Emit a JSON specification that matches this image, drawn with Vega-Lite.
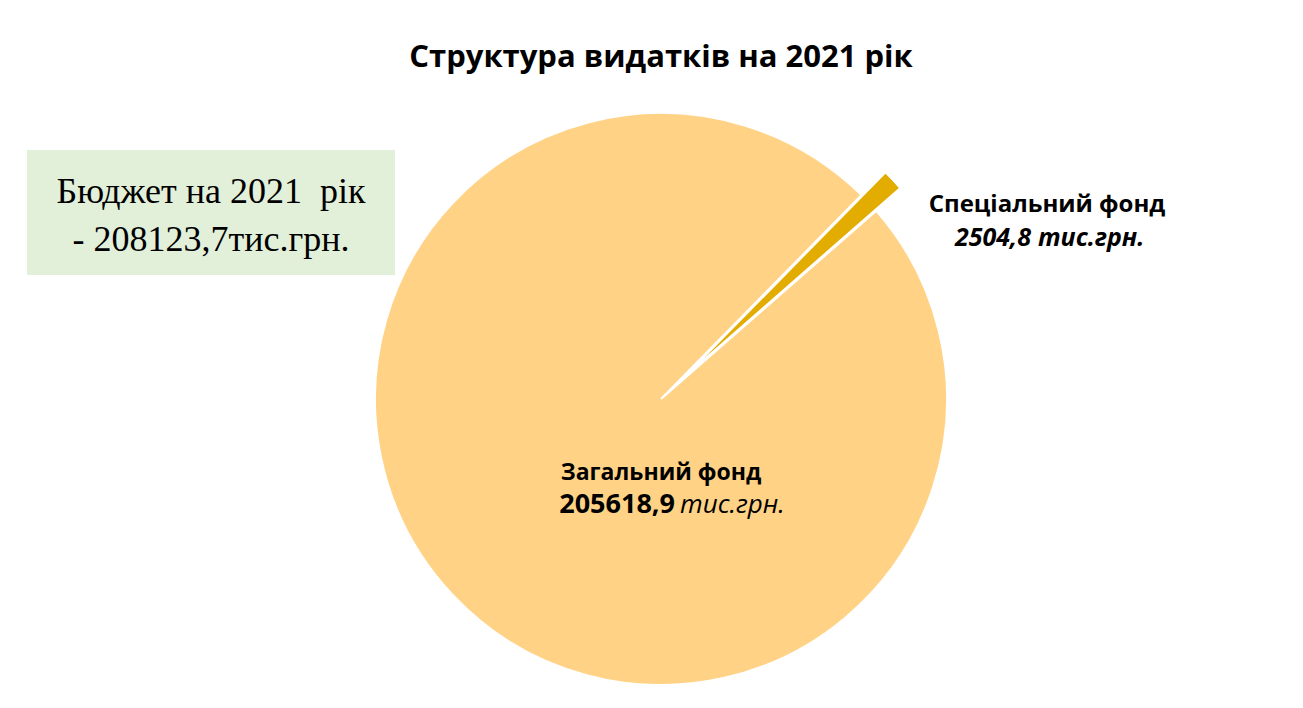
{
  "$schema": "https://vega.github.io/schema/vega-lite/v6.json",
  "autosize": {"type": "none"},
  "padding": {"left": 27, "top": 150, "right": 1276, "bottom": 558},
  "background": "white",
  "spacing": 16,
  "bounds": "flush",
  "config": {"view": {"stroke": null}},
  "hconcat": [
    {
      "width": 368,
      "height": 125,
      "view": {"fill": "#E2EFD9", "stroke": null},
      "data": {"values": [{"budget": 208123.7}]},
      "mark": {
        "type": "text",
        "text": ["Бюджет на 2021\u00a0 рік", "- 208123,7тис.грн."],
        "font": "Liberation Serif",
        "fontSize": 36,
        "lineHeight": 48,
        "align": "center",
        "baseline": "alphabetic",
        "dy": -10,
        "color": "#000000"
      },
      "encoding": {}
    },
    {
      "width": 500,
      "height": 498,
      "title": {
        "text": "Структура видатків на 2021 рік",
        "anchor": "middle",
        "baseline": "alphabetic",
        "offset": -8,
        "font": "Open Sans",
        "fontSize": 31,
        "fontWeight": "bold",
        "color": "#000000"
      },
      "data": {
        "values": [
          {"fund": "Загальний фонд", "value": 205618.9, "amount": "205618,9"},
          {"fund": "Спеціальний фонд", "value": 2504.8, "amount": "2504,8"}
        ]
      },
      "layer": [
        {
          "mark": {"type": "arc", "radius": 286, "stroke": "white", "strokeWidth": 2, "fill": "#FFD286"},
          "encoding": {
            "theta": {"field": "value", "type": "quantitative", "stack": true, "scale": {"range": [0.7767, 7.0599]}},
            "order": {"field": "fund", "sort": "descending"},
            "opacity": {"condition": {"test": "datum.fund === 'Спеціальний фонд'", "value": 0}, "value": 1}
          }
        },
        {
          "mark": {"type": "arc", "radius": 286, "stroke": "white", "strokeWidth": 2, "fill": "#E3AC00", "xOffset": 24, "yOffset": -22.7},
          "encoding": {
            "theta": {"field": "value", "type": "quantitative", "stack": true, "scale": {"range": [0.7767, 7.0599]}},
            "order": {"field": "fund", "sort": "descending"},
            "opacity": {"condition": {"test": "datum.fund === 'Спеціальний фонд'", "value": 1}, "value": 0}
          }
        },
        {
          "transform": [{"filter": "datum.fund === 'Загальний фонд'"}],
          "mark": {"type": "text", "font": "Open Sans", "fontSize": 23, "fontWeight": "bold", "align": "center", "baseline": "alphabetic", "dx": 0, "dy": 81, "color": "#000000"},
          "encoding": {"text": {"field": "fund", "type": "nominal"}}
        },
        {
          "transform": [{"filter": "datum.fund === 'Загальний фонд'"}],
          "mark": {"type": "text", "font": "Open Sans", "fontSize": 27, "fontWeight": "bold", "align": "right", "baseline": "alphabetic", "dx": 14, "dy": 114, "color": "#000000"},
          "encoding": {"text": {"field": "amount", "type": "nominal"}}
        },
        {
          "transform": [{"filter": "datum.fund === 'Загальний фонд'"}],
          "mark": {"type": "text", "text": "тис.грн.", "font": "Open Sans", "fontSize": 26, "fontStyle": "italic", "fontWeight": "normal", "align": "left", "baseline": "alphabetic", "dx": 19, "dy": 114, "color": "#000000"},
          "encoding": {}
        },
        {
          "transform": [{"filter": "datum.fund === 'Спеціальний фонд'"}],
          "mark": {"type": "text", "font": "Open Sans", "fontSize": 24, "fontWeight": "bold", "align": "center", "baseline": "alphabetic", "dx": 386, "dy": -187, "color": "#000000"},
          "encoding": {"text": {"field": "fund", "type": "nominal"}}
        },
        {
          "transform": [{"filter": "datum.fund === 'Спеціальний фонд'"}],
          "mark": {"type": "text", "font": "Open Sans", "fontSize": 25, "fontWeight": "bold", "fontStyle": "italic", "align": "right", "baseline": "alphabetic", "dx": 370, "dy": -153, "color": "#000000"},
          "encoding": {"text": {"field": "amount", "type": "nominal"}}
        },
        {
          "transform": [{"filter": "datum.fund === 'Спеціальний фонд'"}],
          "mark": {"type": "text", "text": "тис.грн.", "font": "Open Sans", "fontSize": 25, "fontWeight": "bold", "fontStyle": "italic", "align": "left", "baseline": "alphabetic", "dx": 377, "dy": -153, "color": "#000000"},
          "encoding": {}
        }
      ]
    }
  ]
}
